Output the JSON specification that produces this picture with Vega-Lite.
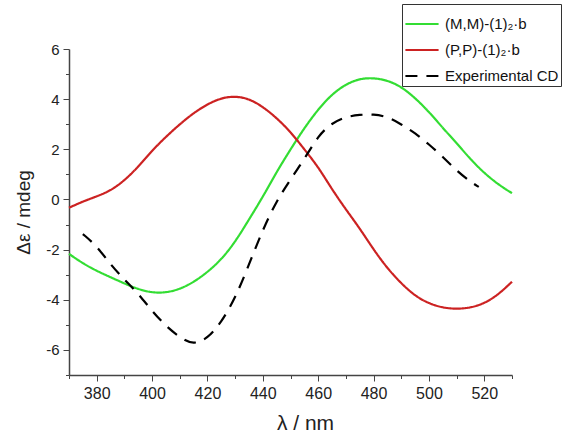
{
 "$schema": "https://vega.github.io/schema/vega-lite/v6.json",
 "width": 443,
 "height": 326,
 "autosize": {"type": "none"},
 "padding": {"left": 69, "top": 49, "right": 66, "bottom": 59},
 "background": "white",
 "config": {"font": "Liberation Sans", "view": {"stroke": null}},
 "data": {"values": [
  {"s":"(M,M)-(1)₂·b","wl":370,"v":-2.17},{"s":"(M,M)-(1)₂·b","wl":375,"v":-2.55},{"s":"(M,M)-(1)₂·b","wl":380,"v":-2.85},{"s":"(M,M)-(1)₂·b","wl":385,"v":-3.1},{"s":"(M,M)-(1)₂·b","wl":390,"v":-3.35},{"s":"(M,M)-(1)₂·b","wl":395,"v":-3.58},{"s":"(M,M)-(1)₂·b","wl":400,"v":-3.72},{"s":"(M,M)-(1)₂·b","wl":405,"v":-3.72},{"s":"(M,M)-(1)₂·b","wl":410,"v":-3.58},{"s":"(M,M)-(1)₂·b","wl":415,"v":-3.3},{"s":"(M,M)-(1)₂·b","wl":420,"v":-2.9},{"s":"(M,M)-(1)₂·b","wl":425,"v":-2.4},{"s":"(M,M)-(1)₂·b","wl":430,"v":-1.7},{"s":"(M,M)-(1)₂·b","wl":435,"v":-0.8},{"s":"(M,M)-(1)₂·b","wl":440,"v":0.1},{"s":"(M,M)-(1)₂·b","wl":445,"v":1.1},{"s":"(M,M)-(1)₂·b","wl":450,"v":2.0},{"s":"(M,M)-(1)₂·b","wl":455,"v":2.85},{"s":"(M,M)-(1)₂·b","wl":460,"v":3.6},{"s":"(M,M)-(1)₂·b","wl":465,"v":4.2},{"s":"(M,M)-(1)₂·b","wl":470,"v":4.6},{"s":"(M,M)-(1)₂·b","wl":475,"v":4.82},{"s":"(M,M)-(1)₂·b","wl":480,"v":4.85},{"s":"(M,M)-(1)₂·b","wl":485,"v":4.75},{"s":"(M,M)-(1)₂·b","wl":490,"v":4.5},{"s":"(M,M)-(1)₂·b","wl":495,"v":4.05},{"s":"(M,M)-(1)₂·b","wl":500,"v":3.5},{"s":"(M,M)-(1)₂·b","wl":505,"v":2.85},{"s":"(M,M)-(1)₂·b","wl":510,"v":2.25},{"s":"(M,M)-(1)₂·b","wl":515,"v":1.6},{"s":"(M,M)-(1)₂·b","wl":520,"v":1.05},{"s":"(M,M)-(1)₂·b","wl":525,"v":0.6},{"s":"(M,M)-(1)₂·b","wl":530,"v":0.25},
  {"s":"(P,P)-(1)₂·b","wl":370,"v":-0.33},{"s":"(P,P)-(1)₂·b","wl":375,"v":-0.08},{"s":"(P,P)-(1)₂·b","wl":380,"v":0.12},{"s":"(P,P)-(1)₂·b","wl":385,"v":0.35},{"s":"(P,P)-(1)₂·b","wl":390,"v":0.75},{"s":"(P,P)-(1)₂·b","wl":395,"v":1.3},{"s":"(P,P)-(1)₂·b","wl":400,"v":1.95},{"s":"(P,P)-(1)₂·b","wl":405,"v":2.5},{"s":"(P,P)-(1)₂·b","wl":410,"v":3.0},{"s":"(P,P)-(1)₂·b","wl":415,"v":3.45},{"s":"(P,P)-(1)₂·b","wl":420,"v":3.8},{"s":"(P,P)-(1)₂·b","wl":425,"v":4.05},{"s":"(P,P)-(1)₂·b","wl":430,"v":4.12},{"s":"(P,P)-(1)₂·b","wl":435,"v":4.02},{"s":"(P,P)-(1)₂·b","wl":440,"v":3.7},{"s":"(P,P)-(1)₂·b","wl":445,"v":3.25},{"s":"(P,P)-(1)₂·b","wl":450,"v":2.7},{"s":"(P,P)-(1)₂·b","wl":455,"v":2.0},{"s":"(P,P)-(1)₂·b","wl":460,"v":1.3},{"s":"(P,P)-(1)₂·b","wl":465,"v":0.4},{"s":"(P,P)-(1)₂·b","wl":470,"v":-0.4},{"s":"(P,P)-(1)₂·b","wl":475,"v":-1.15},{"s":"(P,P)-(1)₂·b","wl":480,"v":-2.0},{"s":"(P,P)-(1)₂·b","wl":485,"v":-2.75},{"s":"(P,P)-(1)₂·b","wl":490,"v":-3.35},{"s":"(P,P)-(1)₂·b","wl":495,"v":-3.85},{"s":"(P,P)-(1)₂·b","wl":500,"v":-4.15},{"s":"(P,P)-(1)₂·b","wl":505,"v":-4.32},{"s":"(P,P)-(1)₂·b","wl":510,"v":-4.37},{"s":"(P,P)-(1)₂·b","wl":515,"v":-4.32},{"s":"(P,P)-(1)₂·b","wl":520,"v":-4.15},{"s":"(P,P)-(1)₂·b","wl":525,"v":-3.8},{"s":"(P,P)-(1)₂·b","wl":530,"v":-3.28},
  {"s":"Experimental CD","wl":375,"v":-1.38},{"s":"Experimental CD","wl":380,"v":-1.85},{"s":"Experimental CD","wl":385,"v":-2.6},{"s":"Experimental CD","wl":390,"v":-3.2},{"s":"Experimental CD","wl":395,"v":-3.75},{"s":"Experimental CD","wl":400,"v":-4.45},{"s":"Experimental CD","wl":405,"v":-5.05},{"s":"Experimental CD","wl":410,"v":-5.5},{"s":"Experimental CD","wl":415,"v":-5.8},{"s":"Experimental CD","wl":420,"v":-5.55},{"s":"Experimental CD","wl":425,"v":-4.9},{"s":"Experimental CD","wl":430,"v":-3.95},{"s":"Experimental CD","wl":435,"v":-2.6},{"s":"Experimental CD","wl":440,"v":-1.2},{"s":"Experimental CD","wl":445,"v":-0.05},{"s":"Experimental CD","wl":450,"v":0.8},{"s":"Experimental CD","wl":455,"v":1.6},{"s":"Experimental CD","wl":460,"v":2.55},{"s":"Experimental CD","wl":465,"v":3.05},{"s":"Experimental CD","wl":470,"v":3.3},{"s":"Experimental CD","wl":475,"v":3.38},{"s":"Experimental CD","wl":480,"v":3.4},{"s":"Experimental CD","wl":485,"v":3.3},{"s":"Experimental CD","wl":490,"v":3.0},{"s":"Experimental CD","wl":495,"v":2.65},{"s":"Experimental CD","wl":500,"v":2.2},{"s":"Experimental CD","wl":505,"v":1.7},{"s":"Experimental CD","wl":510,"v":1.15},{"s":"Experimental CD","wl":515,"v":0.7},{"s":"Experimental CD","wl":518,"v":0.5}
 ]},
 "layer": [
  {
   "mark": {"type": "line", "interpolate": "basis"},
   "encoding": {
    "x": {"field": "wl", "type": "quantitative",
      "scale": {"domain": [370, 530], "nice": false, "zero": false},
      "axis": {"orient": "bottom", "values": [380, 400, 420, 440, 460, 480, 500, 520], "title": "λ / nm",
        "grid": false, "domainColor": "#444", "domainWidth": 1.5, "tickColor": "#444", "tickSize": 6, "tickWidth": 1,
        "labelFont": "Liberation Sans", "labelFontSize": 16, "labelColor": "#222", "labelPadding": 4,
        "titleFont": "Liberation Sans", "titleFontSize": 21, "titleFontWeight": "normal", "titleColor": "#222", "titlePadding": 11, "titleX": 236}},
    "y": {"field": "v", "type": "quantitative",
      "scale": {"domain": [-7, 6], "nice": false, "zero": false},
      "axis": {"orient": "left", "values": [-6, -4, -2, 0, 2, 4, 6], "title": "Δε / mdeg", "labelExpr": "toString(datum.value)",
        "grid": false, "domainColor": "#444", "domainWidth": 1.5, "tickColor": "#444", "tickSize": 6, "tickWidth": 1,
        "labelFont": "Liberation Sans", "labelFontSize": 15, "labelColor": "#222", "labelPadding": 4,
        "titleFont": "Liberation Sans", "titleFontSize": 19, "titleFontWeight": "normal", "titleColor": "#222", "titlePadding": 12}},
    "color": {"field": "s", "type": "nominal",
      "scale": {"domain": ["(M,M)-(1)₂·b", "(P,P)-(1)₂·b", "Experimental CD"], "range": ["#33dd33", "#cc2222", "#000000"]},
      "legend": {"orient": "none", "legendX": 333, "legendY": -45, "title": null, "symbolType": "stroke", "symbolSize": 1100,
        "symbolStrokeWidth": 2.5, "labelFont": "Liberation Sans", "labelFontSize": 15, "labelColor": "#111", "labelOffset": 5,
        "strokeColor": "#333", "fillColor": "white", "padding": 2, "rowPadding": 0}},
    "strokeDash": {"field": "s", "type": "nominal",
      "scale": {"domain": ["(M,M)-(1)₂·b", "(P,P)-(1)₂·b", "Experimental CD"], "range": [[1, 0], [1, 0], [12, 9]]},
      "legend": {"orient": "none", "legendX": 333, "legendY": -45, "title": null, "symbolType": "stroke", "symbolSize": 1100,
        "symbolStrokeWidth": 2.5, "labelFont": "Liberation Sans", "labelFontSize": 15, "labelColor": "#111", "labelOffset": 5,
        "strokeColor": "#333", "fillColor": "white", "padding": 2, "rowPadding": 0}},
    "strokeWidth": {"field": "s", "type": "nominal",
      "scale": {"domain": ["(M,M)-(1)₂·b", "(P,P)-(1)₂·b", "Experimental CD"], "range": [2.2, 2.2, 3]},
      "legend": null}
   }
  },
  {
   "mark": {"type": "line", "opacity": 0},
   "encoding": {
    "x": {"field": "wl", "type": "quantitative",
      "scale": {"domain": [370, 530], "nice": false, "zero": false},
      "axis": {"orient": "bottom", "values": [370, 390, 410, 430, 450, 470, 490, 510, 530], "labels": false, "title": null,
        "grid": false, "domain": false, "tickColor": "#444", "tickSize": 3.5, "tickWidth": 1}},
    "y": {"field": "v", "type": "quantitative",
      "scale": {"domain": [-7, 6], "nice": false, "zero": false},
      "axis": {"orient": "left", "values": [-7, -5, -3, -1, 1, 3, 5], "labels": false, "title": null,
        "grid": false, "domain": false, "tickColor": "#444", "tickSize": 3.5, "tickWidth": 1}},
    "detail": {"field": "s", "type": "nominal"}
   }
  }
 ],
 "resolve": {"axis": {"x": "independent", "y": "independent"}}
}
